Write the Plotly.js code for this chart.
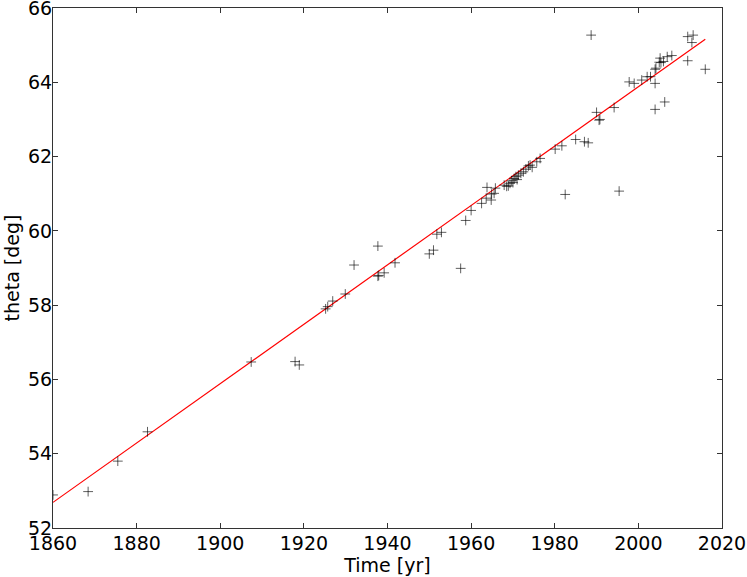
<!DOCTYPE html>
<html>
<head>
<meta charset="utf-8">
<script src="https://cdn.plot.ly/plotly-3.0.1.min.js"></script>
<style>
  html, body { margin: 0; padding: 0; background: #fff; }
  #chart { width: 747px; height: 577px; }
</style>
</head>
<body>
<div id="chart"></div>
<script>
const years = [
    1860.0, 1868.4, 1875.5, 1882.6, 1907.4, 1917.9, 1918.9,
    1925.2, 1925.7, 1926.9, 1929.9, 1932.0, 1937.7, 1937.7, 1937.9, 1939.2, 1941.8,
    1950.0, 1951.0, 1951.8, 1952.9, 1957.5, 1958.7, 1960.0, 1962.5, 1963.6, 1963.8,
    1964.8, 1964.9, 1965.5, 1965.8, 1967.9, 1968.5, 1968.9, 1969.3, 1969.7, 1970.0,
    1970.3, 1970.7, 1971.0, 1971.3, 1971.9, 1972.5, 1973.1, 1973.7, 1974.1, 1974.6,
    1975.7, 1976.5, 1980.1, 1981.7, 1982.5, 1985.0, 1987.1, 1988.0, 1988.7, 1990.0,
    1990.6, 1990.8, 1994.2, 1995.4, 1997.8, 1999.0, 2000.8, 2002.1, 2002.9, 2004.0,
    2004.0, 2004.2, 2004.0, 2005.0, 2005.2, 2005.4, 2006.0, 2006.3, 2006.9, 2008.0,
    2011.8, 2013.1, 2012.8, 2011.8, 2016.0
];
const theta = [
    52.89, 52.98, 53.80, 54.59, 56.47, 56.48, 56.39,
    57.90, 57.96, 58.11, 58.30, 59.08, 59.59, 58.78, 58.80, 58.87, 59.14,
    59.38, 59.48, 59.91, 59.96, 58.99, 60.28, 60.55, 60.74, 60.88, 61.17,
    60.83, 60.99, 61.01, 61.15, 61.23, 61.20, 61.21, 61.28, 61.35, 61.30,
    61.41, 61.46, 61.38, 61.50, 61.55, 61.59, 61.66, 61.75, 61.77, 61.71,
    61.86, 61.95, 62.20, 62.29, 60.98, 62.46, 62.40, 62.37, 65.27, 63.19,
    62.98, 63.00, 63.32, 61.07, 64.01, 63.97, 64.06, 64.15, 64.15, 63.97,
    64.35, 64.38, 63.27, 64.54, 64.65, 64.53, 64.56, 63.47, 64.69, 64.72,
    65.23, 65.27, 65.07, 64.58, 64.35
];

// fitted line end points
const fitYears = [1860, 2016];
const fitTheta = [52.69, 65.16];

const traces = [
    {
        x: fitYears, y: fitTheta,
        mode: 'lines', type: 'scatter',
        line: {color: '#ff0000', width: 1.2},
        hoverinfo: 'skip'
    },
    {
        x: years, y: theta,
        mode: 'markers', type: 'scatter',
        marker: {
            symbol: 'cross-thin', size: 7, color: 'rgba(0,0,0,0.7)',
            line: {width: 0.9, color: 'rgba(0,0,0,0.7)'}
        }
    }
];

const axisCommon = {
    showgrid: false, zeroline: false,
    showline: true, linecolor: '#333', linewidth: 1,
    mirror: 'ticks', ticks: 'inside', ticklen: 5, tickcolor: '#333',
    ticklabeloverflow: 'allow',
    tickfont: {family: 'DejaVu Sans', size: 19, color: '#000'}
};

const layout = {
    width: 747, height: 577,
    margin: {l: 53, r: 25, t: 8, b: 49},
    paper_bgcolor: '#fff', plot_bgcolor: '#fff',
    showlegend: false,
    font: {family: 'DejaVu Sans', color: '#000'},
    xaxis: Object.assign({}, axisCommon, {
        range: [1860, 2020], dtick: 20, tick0: 1860,
        ticklabelstandoff: -2,
        title: {text: 'Time [yr]', font: {family: 'DejaVu Sans', size: 19}, standoff: 2}
    }),
    yaxis: Object.assign({}, axisCommon, {
        range: [52, 66], dtick: 2, tick0: 52,
        ticklabelstandoff: -4,
        title: {text: 'theta [deg]', font: {family: 'DejaVu Sans', size: 19}, standoff: 3}
    })
};

Plotly.newPlot('chart', traces, layout, {displayModeBar: false, staticPlot: true});
</script>
</body>
</html>
